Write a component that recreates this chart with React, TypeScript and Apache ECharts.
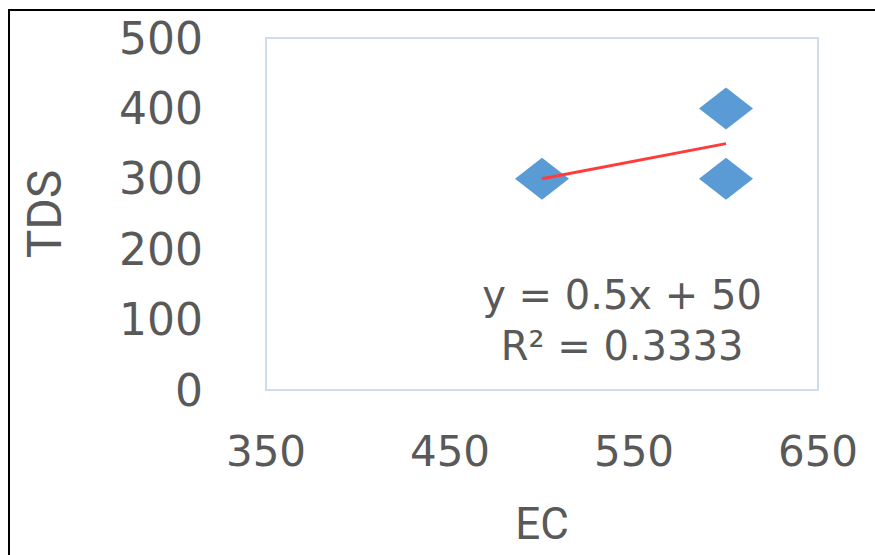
import React, { useEffect, useRef } from "react";
import * as echarts from "echarts";

const ecValues = [500, 600, 600];
const tdsValues = [300, 400, 300];
const xTicks = [350, 450, 550, 650];
const trendSlope = 0.5;
const trendIntercept = 50;
const equationText = "y = 0.5x + 50";
const r2Text = "R² = 0.3333";

export default function App() {
  const ref = useRef<HTMLDivElement>(null);
  useEffect(() => {
    if (!ref.current) return;
    const chart = echarts.init(ref.current, undefined, { renderer: "svg" });
    const points = ecValues.map((x, i) => [x, tdsValues[i]]);
    const xMin = Math.min(...ecValues);
    const xMax = Math.max(...ecValues);
    const trend = [
      [xMin, trendSlope * xMin + trendIntercept],
      [xMax, trendSlope * xMax + trendIntercept],
    ];
    const labelColor = "#595959";
    chart.setOption({
      animation: false,
      backgroundColor: "#ffffff",
      grid: {
        left: 266,
        top: 38,
        right: 57,
        bottom: 165,
        show: true,
        containLabel: false,
        outerBoundsMode: "none",
        borderColor: "#cddcee",
        borderWidth: 2,
      },
      xAxis: {
        type: "value",
        min: 350,
        max: 650,
        name: "EC",
        nameLocation: "middle",
        nameGap: 112,
        nameMoveOverlap: false,
        nameTextStyle: {
          fontFamily: "Roboto",
          fontSize: 44,
          lineHeight: 44,
          color: labelColor,
        },
        axisLine: { show: false },
        axisTick: { show: false, customValues: xTicks },
        splitLine: { show: false },
        axisLabel: {
          customValues: xTicks,
          margin: 40,
          fontFamily: "DejaVu Sans",
          fontSize: 42,
          color: labelColor,
        },
      },
      yAxis: {
        type: "value",
        min: 0,
        max: 500,
        interval: 100,
        name: "TDS",
        nameLocation: "middle",
        nameRotate: 90,
        nameGap: 198,
        nameMoveOverlap: false,
        nameTextStyle: { fontFamily: "Roboto", fontSize: 48, color: labelColor },
        axisLine: { show: false },
        axisTick: { show: false },
        splitLine: { show: false },
        axisLabel: {
          margin: 63,
          fontFamily: "DejaVu Sans",
          fontSize: 44,
          color: labelColor,
        },
      },
      series: [
        {
          type: "scatter",
          data: points,
          symbol: "diamond",
          symbolSize: [54, 42],
          itemStyle: { color: "#5B9BD5", opacity: 1 },
          z: 2,
        },
        {
          type: "line",
          data: trend,
          symbol: "none",
          lineStyle: { color: "#ff3b3b", width: 3 },
          z: 3,
        },
      ],
      graphic: [
        {
          type: "text",
          x: 622,
          y: 295,
          style: {
            text: equationText,
            fontFamily: "DejaVu Sans",
            fontSize: 40,
            fill: labelColor,
            align: "center",
            verticalAlign: "middle",
          },
        },
        {
          type: "text",
          x: 622,
          y: 346,
          style: {
            text: r2Text,
            fontFamily: "DejaVu Sans",
            fontSize: 40,
            fill: labelColor,
            align: "center",
            verticalAlign: "middle",
          },
        },
        {
          type: "line",
          shape: { x1: 8, y1: 10, x2: 875, y2: 10 },
          style: { stroke: "#000000", lineWidth: 2 },
        },
        {
          type: "line",
          shape: { x1: 9, y1: 9, x2: 9, y2: 555 },
          style: { stroke: "#000000", lineWidth: 2 },
        },
      ],
    });
    return () => chart.dispose();
  }, []);
  return (
    <div
      ref={ref}
      style={{ position: "fixed", left: 0, top: 0, width: 875, height: 555, background: "#fff" }}
    />
  );
}
